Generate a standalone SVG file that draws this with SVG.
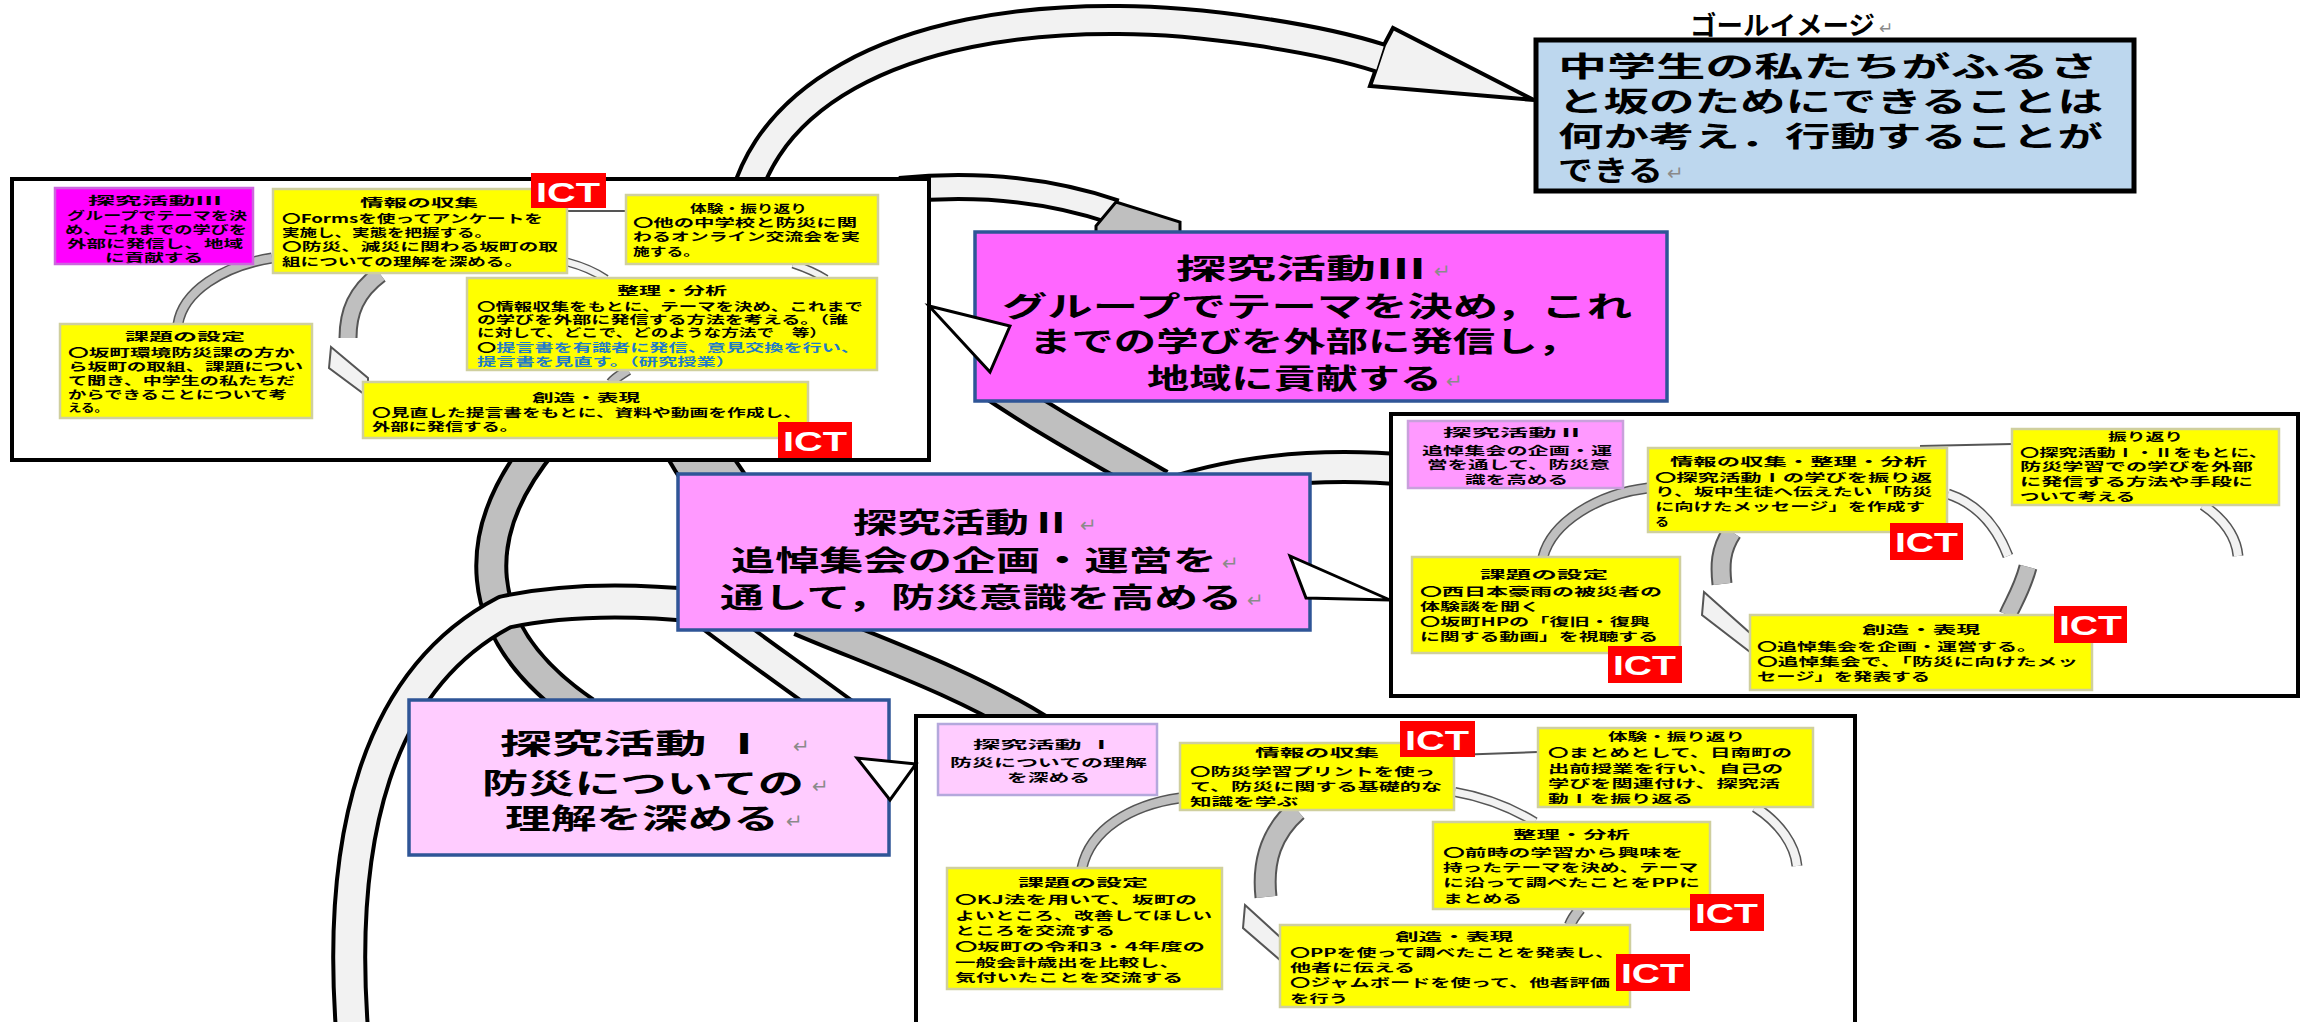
<svg xmlns="http://www.w3.org/2000/svg" width="2305" height="1022" viewBox="0 0 2305 1022">
<defs>
<style>
.j{font-family:"Noto Sans CJK JP","Noto Sans CJK SC",sans-serif;font-weight:700;fill:#000}
.s{font-size:11.5px}
.b{font-size:28px}
.g{font-size:26px}
.blue{fill:#1F7BC8}
.r{font-family:"DejaVu Sans",sans-serif;font-weight:400;fill:#8a8a8a}
.panel{fill:#fff;stroke:#000;stroke-width:4}
.yb{fill:#FFFF00;stroke:#CFCF9E;stroke-width:2.5}
.ict{fill:#FF0000}
.ictt{font-family:"Liberation Sans",Arial,sans-serif;font-weight:700;font-size:28px;fill:#fff}
.bo{fill:none;stroke:#000}
.io{fill:none;stroke:#555}
.bl{fill:none;stroke:#F2F2F2}
.bg{fill:none;stroke:#BFBFBF}
.hl{fill:#F2F2F2;stroke:#000;stroke-width:4;stroke-linejoin:miter}
.hg{fill:#BFBFBF;stroke:#000;stroke-width:3}
.wl{fill:#F2F2F2;stroke:#555;stroke-width:2}
.ln{fill:none;stroke:#555;stroke-width:2}
.co{stroke:#2F5597;stroke-width:3.5}
.tail{fill:#fff;stroke:#000;stroke-width:3;stroke-linejoin:miter}
</style>
<path id="b1" d="M738,250 C738,95 905,18 1119,20 C1200,20 1318,38 1380,58"/>
<path id="b2" d="M900,190 C980,182 1050,190 1115,212"/>
<path id="b3" d="M545,440 C470,530 465,630 585,712"/>
<path id="b4" d="M352,1030 C338,840 375,680 505,612 C570,598 640,600 700,606"/>
<path id="b5" d="M690,440 C700,460 712,475 725,495"/>
<path id="b7" d="M800,620 C870,650 960,680 1040,730"/>
<path id="b8" d="M1150,500 C1230,470 1320,462 1410,470"/>
<path id="b9" d="M985,380 C1060,430 1100,450 1160,485"/>
<path id="b10" d="M690,600 C740,640 800,680 880,740"/>
<path id="ta" d="M178,324 C183,292 222,266 272,258"/>
<path id="tb" d="M380,274 C356,292 348,312 348,338"/>
<path id="td" d="M567,262 C582,266 596,272 606,279"/>
<path id="tf" d="M793,264 C805,268 815,272 826,279"/>
<path id="tg" d="M628,370 C622,374 615,378 611,383"/>
<path id="ma" d="M1543,557 C1552,522 1598,494 1648,488"/>
<path id="mb" d="M1732,532 C1720,550 1720,566 1722,584"/>
<path id="md" d="M1948,494 C1975,503 1995,522 2008,556"/>
<path id="me" d="M2028,567 C2022,590 2012,605 2008,615"/>
<path id="mf" d="M2203,505 C2222,518 2236,535 2238,556"/>
<path id="ba" d="M1082,868 C1090,830 1130,805 1180,798"/>
<path id="bb" d="M1297,810 C1272,832 1262,860 1266,897"/>
<path id="bd" d="M1455,792 C1490,798 1515,810 1535,822"/>
<path id="be" d="M1755,807 C1780,823 1795,845 1797,866"/>
<path id="bf" d="M1580,909 C1576,914 1572,919 1570,925"/>
</defs>
<rect x="0" y="0" width="2305" height="1022" fill="#fff"/>

<g id="spiral-connectors">
<use href="#b3" class="bo" stroke-width="34"/><use href="#b3" class="bg" stroke-width="26"/>
<use href="#b5" class="bo" stroke-width="60"/><use href="#b5" class="bg" stroke-width="52"/>
<use href="#b9" class="bo" stroke-width="34"/><use href="#b9" class="bg" stroke-width="26"/>
<use href="#b7" class="bo" stroke-width="34"/><use href="#b7" class="bg" stroke-width="26"/>
<use href="#b10" class="bo" stroke-width="34"/><use href="#b10" class="bl" stroke-width="26"/>
<use href="#b8" class="bo" stroke-width="34"/><use href="#b8" class="bl" stroke-width="26"/>
<use href="#b4" class="bo" stroke-width="36"/><use href="#b4" class="bl" stroke-width="28"/>
<use href="#b2" class="bo" stroke-width="28"/><use href="#b2" class="bl" stroke-width="20"/>
<polygon class="hg" points="1096,226 1116,202 1180,222 1180,240 1096,240"/>
<use href="#b1" class="bo" stroke-width="32"/>
<polygon class="hl" points="1384,45 1393,28 1534,100 1370,86 1376,69"/>
<use href="#b1" class="bl" stroke-width="24"/>
</g>

<g id="panel-3"><rect class="panel" x="12" y="179" width="917" height="281"/></g>
<g id="panel-2"><rect class="panel" x="1391" y="414" width="907" height="282"/></g>
<g id="panel-1"><rect class="panel" x="916" y="716" width="939" height="320"/></g>

<g id="inner-connectors">
<use href="#ta" class="io" stroke-width="11"/><use href="#ta" class="bg" stroke-width="8"/>
<use href="#tb" class="io" stroke-width="19"/><use href="#tb" class="bg" stroke-width="15"/>
<polygon class="wl" points="331,347 368,378 368,397 329,368"/>
<use href="#td" class="io" stroke-width="9"/><use href="#td" class="bl" stroke-width="6"/>
<line class="ln" x1="567" y1="211" x2="626" y2="211"/>
<use href="#tf" class="io" stroke-width="9"/><use href="#tf" class="bl" stroke-width="6"/>
<use href="#tg" class="io" stroke-width="11"/><use href="#tg" class="bg" stroke-width="8"/>
<use href="#ma" class="io" stroke-width="11"/><use href="#ma" class="bg" stroke-width="8"/>
<use href="#mb" class="io" stroke-width="21"/><use href="#mb" class="bg" stroke-width="17"/>
<polygon class="wl" points="1704,592 1750,633 1750,652 1702,615"/>
<use href="#md" class="io" stroke-width="11"/><use href="#md" class="bl" stroke-width="8"/>
<use href="#me" class="io" stroke-width="19"/><use href="#me" class="bg" stroke-width="15"/>
<use href="#mf" class="io" stroke-width="11"/><use href="#mf" class="bl" stroke-width="8"/>
<line class="ln" x1="1920" y1="446" x2="2012" y2="444"/>
<use href="#ba" class="io" stroke-width="11"/><use href="#ba" class="bg" stroke-width="8"/>
<use href="#bb" class="io" stroke-width="23"/><use href="#bb" class="bg" stroke-width="19"/>
<polygon class="wl" points="1245,905 1280,937 1280,960 1243,928"/>
<use href="#bd" class="io" stroke-width="10"/><use href="#bd" class="bl" stroke-width="7"/>
<use href="#be" class="io" stroke-width="11"/><use href="#be" class="bl" stroke-width="8"/>
<use href="#bf" class="io" stroke-width="12"/><use href="#bf" class="bg" stroke-width="9"/>
<line class="ln" x1="1454" y1="755" x2="1538" y2="752"/>
</g>

<g id="tl-title">
<rect x="55" y="188" width="198" height="76" fill="#FF00FF" stroke="#CC66DD" stroke-width="2.5"/>
<text class="j s" x="88" y="205" textLength="134" lengthAdjust="spacingAndGlyphs">探究活動Ⅲ</text>
<text class="j s" x="67" y="220" textLength="180" lengthAdjust="spacingAndGlyphs">グループでテーマを決</text>
<text class="j s" x="65" y="234" textLength="182" lengthAdjust="spacingAndGlyphs">め、これまでの学びを</text>
<text class="j s" x="67" y="248" textLength="176" lengthAdjust="spacingAndGlyphs">外部に発信し、地域</text>
<text class="j s" x="105" y="262" textLength="98" lengthAdjust="spacingAndGlyphs">に貢献する</text>
</g>
<g id="tl-joho">
<rect class="yb" x="273" y="189" width="294" height="84"/>
<text class="j s" x="360" y="207" textLength="118" lengthAdjust="spacingAndGlyphs">情報の収集</text>
<text class="j s" x="282" y="223" textLength="261" lengthAdjust="spacingAndGlyphs">〇Formsを使ってアンケートを</text>
<text class="j s" x="282" y="237" textLength="210" lengthAdjust="spacingAndGlyphs">実施し、実態を把握する。</text>
<text class="j s" x="282" y="251" textLength="276" lengthAdjust="spacingAndGlyphs">〇防災、減災に関わる坂町の取</text>
<text class="j s" x="282" y="266" textLength="241" lengthAdjust="spacingAndGlyphs">組についての理解を深める。</text>
</g>
<g id="tl-taiken">
<rect class="yb" x="626" y="195" width="252" height="69"/>
<text class="j s" x="690" y="213" textLength="117" lengthAdjust="spacingAndGlyphs">体験・振り返り</text>
<text class="j s" x="633" y="227" textLength="224" lengthAdjust="spacingAndGlyphs">〇他の中学校と防災に関</text>
<text class="j s" x="633" y="241" textLength="227" lengthAdjust="spacingAndGlyphs">わるオンライン交流会を実</text>
<text class="j s" x="633" y="256" textLength="67" lengthAdjust="spacingAndGlyphs">施する。</text>
</g>
<g id="tl-seiri">
<rect class="yb" x="467" y="278" width="410" height="92"/>
<text class="j s" x="617" y="295" textLength="110" lengthAdjust="spacingAndGlyphs">整理・分析</text>
<text class="j s" x="477" y="311" textLength="386" lengthAdjust="spacingAndGlyphs">〇情報収集をもとに、テーマを決め、これまで</text>
<text class="j s" x="477" y="324" textLength="371" lengthAdjust="spacingAndGlyphs">の学びを外部に発信する方法を考える。（誰</text>
<text class="j s" x="477" y="337" textLength="350" lengthAdjust="spacingAndGlyphs">に対して、どこで、どのような方法で　等）</text>
<text class="j s" x="477" y="352" textLength="383" lengthAdjust="spacingAndGlyphs">〇<tspan class="blue">提言書を有識者に発信、意見交換を行い、</tspan></text>
<text class="j s blue" x="477" y="366" textLength="258" lengthAdjust="spacingAndGlyphs">提言書を見直す。（研究授業）</text>
</g>
<g id="tl-sozo">
<rect class="yb" x="363" y="382" width="445" height="56"/>
<text class="j s" x="532" y="402" textLength="108" lengthAdjust="spacingAndGlyphs">創造・表現</text>
<text class="j s" x="372" y="417" textLength="430" lengthAdjust="spacingAndGlyphs">〇見直した提言書をもとに、資料や動画を作成し、</text>
<text class="j s" x="372" y="431" textLength="146" lengthAdjust="spacingAndGlyphs">外部に発信する。</text>
</g>
<g id="tl-kadai">
<rect class="yb" x="60" y="324" width="252" height="94"/>
<text class="j s" x="125" y="341" textLength="120" lengthAdjust="spacingAndGlyphs">課題の設定</text>
<text class="j s" x="68" y="357" textLength="227" lengthAdjust="spacingAndGlyphs">〇坂町環境防災課の方か</text>
<text class="j s" x="68" y="371" textLength="235" lengthAdjust="spacingAndGlyphs">ら坂町の取組、課題につい</text>
<text class="j s" x="68" y="385" textLength="227" lengthAdjust="spacingAndGlyphs">て聞き、中学生の私たちだ</text>
<text class="j s" x="68" y="399" textLength="219" lengthAdjust="spacingAndGlyphs">からできることについて考</text>
<text class="j s" x="68" y="412" textLength="40" lengthAdjust="spacingAndGlyphs">える。</text>
</g>

<g id="mid-title">
<rect x="1408" y="421" width="215" height="67" fill="#FF99FF" stroke="#C9A0DC" stroke-width="2.5"/>
<text class="j s" x="1443" y="437" textLength="142" lengthAdjust="spacingAndGlyphs">探究活動Ⅱ</text>
<text class="j s" x="1422" y="455" textLength="190" lengthAdjust="spacingAndGlyphs">追悼集会の企画・運</text>
<text class="j s" x="1427" y="469" textLength="183" lengthAdjust="spacingAndGlyphs">営を通して、防災意</text>
<text class="j s" x="1465" y="484" textLength="103" lengthAdjust="spacingAndGlyphs">識を高める</text>
</g>
<g id="mid-joho">
<rect class="yb" x="1648" y="448" width="299" height="84"/>
<text class="j s" x="1670" y="466" textLength="257" lengthAdjust="spacingAndGlyphs">情報の収集・整理・分析</text>
<text class="j s" x="1655" y="482" textLength="277" lengthAdjust="spacingAndGlyphs">〇探究活動Ⅰの学びを振り返</text>
<text class="j s" x="1655" y="496" textLength="277" lengthAdjust="spacingAndGlyphs">り、坂中生徒へ伝えたい「防災</text>
<text class="j s" x="1655" y="511" textLength="270" lengthAdjust="spacingAndGlyphs">に向けたメッセージ」を作成す</text>
<text class="j s" x="1655" y="526" textLength="14" lengthAdjust="spacingAndGlyphs">る</text>
</g>
<g id="mid-furikaeri">
<rect class="yb" x="2012" y="429" width="267" height="76"/>
<text class="j s" x="2108" y="441" textLength="75" lengthAdjust="spacingAndGlyphs">振り返り</text>
<text class="j s" x="2020" y="457" textLength="248" lengthAdjust="spacingAndGlyphs">〇探究活動Ⅰ・Ⅱをもとに、</text>
<text class="j s" x="2020" y="471" textLength="233" lengthAdjust="spacingAndGlyphs">防災学習での学びを外部</text>
<text class="j s" x="2020" y="486" textLength="233" lengthAdjust="spacingAndGlyphs">に発信する方法や手段に</text>
<text class="j s" x="2020" y="501" textLength="115" lengthAdjust="spacingAndGlyphs">ついて考える</text>
</g>
<g id="mid-kadai">
<rect class="yb" x="1412" y="557" width="268" height="96"/>
<text class="j s" x="1480" y="579" textLength="128" lengthAdjust="spacingAndGlyphs">課題の設定</text>
<text class="j s" x="1420" y="596" textLength="242" lengthAdjust="spacingAndGlyphs">〇西日本豪雨の被災者の</text>
<text class="j s" x="1420" y="611" textLength="120" lengthAdjust="spacingAndGlyphs">体験談を聞く</text>
<text class="j s" x="1420" y="626" textLength="230" lengthAdjust="spacingAndGlyphs">〇坂町HPの「復旧・復興</text>
<text class="j s" x="1420" y="641" textLength="238" lengthAdjust="spacingAndGlyphs">に関する動画」を視聴する</text>
</g>
<g id="mid-sozo">
<rect class="yb" x="1750" y="615" width="342" height="75"/>
<text class="j s" x="1862" y="634" textLength="118" lengthAdjust="spacingAndGlyphs">創造・表現</text>
<text class="j s" x="1757" y="651" textLength="280" lengthAdjust="spacingAndGlyphs">〇追悼集会を企画・運営する。</text>
<text class="j s" x="1757" y="666" textLength="321" lengthAdjust="spacingAndGlyphs">〇追悼集会で、「防災に向けたメッ</text>
<text class="j s" x="1757" y="681" textLength="173" lengthAdjust="spacingAndGlyphs">セージ」を発表する</text>
</g>

<g id="bot-title">
<rect x="938" y="724" width="219" height="71" fill="#FFCCFF" stroke="#B4A8DC" stroke-width="2.5"/>
<text class="j s" x="973" y="749" textLength="142" lengthAdjust="spacingAndGlyphs">探究活動 Ⅰ</text>
<text class="j s" x="950" y="767" textLength="197" lengthAdjust="spacingAndGlyphs">防災についての理解</text>
<text class="j s" x="1007" y="782" textLength="83" lengthAdjust="spacingAndGlyphs">を深める</text>
</g>
<g id="bot-joho">
<rect class="yb" x="1180" y="743" width="274" height="67"/>
<text class="j s" x="1255" y="757" textLength="124" lengthAdjust="spacingAndGlyphs">情報の収集</text>
<text class="j s" x="1190" y="776" textLength="245" lengthAdjust="spacingAndGlyphs">〇防災学習プリントを使っ</text>
<text class="j s" x="1190" y="791" textLength="252" lengthAdjust="spacingAndGlyphs">て、防災に関する基礎的な</text>
<text class="j s" x="1190" y="806" textLength="108" lengthAdjust="spacingAndGlyphs">知識を学ぶ</text>
</g>
<g id="bot-taiken">
<rect class="yb" x="1538" y="728" width="275" height="79"/>
<text class="j s" x="1608" y="741" textLength="137" lengthAdjust="spacingAndGlyphs">体験・振り返り</text>
<text class="j s" x="1548" y="757" textLength="244" lengthAdjust="spacingAndGlyphs">〇まとめとして、日南町の</text>
<text class="j s" x="1548" y="773" textLength="235" lengthAdjust="spacingAndGlyphs">出前授業を行い、自己の</text>
<text class="j s" x="1548" y="788" textLength="232" lengthAdjust="spacingAndGlyphs">学びを関連付け、探究活</text>
<text class="j s" x="1548" y="803" textLength="145" lengthAdjust="spacingAndGlyphs">動Ⅰを振り返る</text>
</g>
<g id="bot-seiri">
<rect class="yb" x="1433" y="822" width="277" height="87"/>
<text class="j s" x="1513" y="839" textLength="117" lengthAdjust="spacingAndGlyphs">整理・分析</text>
<text class="j s" x="1443" y="857" textLength="240" lengthAdjust="spacingAndGlyphs">〇前時の学習から興味を</text>
<text class="j s" x="1443" y="872" textLength="255" lengthAdjust="spacingAndGlyphs">持ったテーマを決め、テーマ</text>
<text class="j s" x="1443" y="887" textLength="257" lengthAdjust="spacingAndGlyphs">に沿って調べたことをPPに</text>
<text class="j s" x="1443" y="903" textLength="79" lengthAdjust="spacingAndGlyphs">まとめる</text>
</g>
<g id="bot-kadai">
<rect class="yb" x="947" y="868" width="275" height="121"/>
<text class="j s" x="1018" y="887" textLength="130" lengthAdjust="spacingAndGlyphs">課題の設定</text>
<text class="j s" x="955" y="904" textLength="242" lengthAdjust="spacingAndGlyphs">〇KJ法を用いて、坂町の</text>
<text class="j s" x="955" y="920" textLength="257" lengthAdjust="spacingAndGlyphs">よいところ、改善してほしい</text>
<text class="j s" x="955" y="935" textLength="160" lengthAdjust="spacingAndGlyphs">ところを交流する</text>
<text class="j s" x="955" y="951" textLength="250" lengthAdjust="spacingAndGlyphs">〇坂町の令和3・4年度の</text>
<text class="j s" x="955" y="967" textLength="225" lengthAdjust="spacingAndGlyphs">一般会計歳出を比較し、</text>
<text class="j s" x="955" y="982" textLength="228" lengthAdjust="spacingAndGlyphs">気付いたことを交流する</text>
</g>
<g id="bot-sozo">
<rect class="yb" x="1280" y="925" width="350" height="82"/>
<text class="j s" x="1395" y="941" textLength="118" lengthAdjust="spacingAndGlyphs">創造・表現</text>
<text class="j s" x="1290" y="957" textLength="325" lengthAdjust="spacingAndGlyphs">〇PPを使って調べたことを発表し、</text>
<text class="j s" x="1290" y="972" textLength="125" lengthAdjust="spacingAndGlyphs">他者に伝える</text>
<text class="j s" x="1290" y="987" textLength="320" lengthAdjust="spacingAndGlyphs">〇ジャムボードを使って、他者評価</text>
<text class="j s" x="1290" y="1003" textLength="58" lengthAdjust="spacingAndGlyphs">を行う</text>
</g>

<g id="ict-1"><rect class="ict" x="531" y="173" width="75" height="35"/><text class="ictt" x="536" y="202" textLength="64" lengthAdjust="spacingAndGlyphs">ICT</text></g>
<g id="ict-2"><rect class="ict" x="778" y="422" width="74" height="36"/><text class="ictt" x="783" y="451" textLength="64" lengthAdjust="spacingAndGlyphs">ICT</text></g>
<g id="ict-3"><rect class="ict" x="1890" y="523" width="73" height="37"/><text class="ictt" x="1895" y="552" textLength="63" lengthAdjust="spacingAndGlyphs">ICT</text></g>
<g id="ict-4"><rect class="ict" x="1608" y="646" width="74" height="37"/><text class="ictt" x="1613" y="675" textLength="63" lengthAdjust="spacingAndGlyphs">ICT</text></g>
<g id="ict-5"><rect class="ict" x="2054" y="606" width="73" height="37"/><text class="ictt" x="2059" y="635" textLength="63" lengthAdjust="spacingAndGlyphs">ICT</text></g>
<g id="ict-6"><rect class="ict" x="1400" y="721" width="75" height="36"/><text class="ictt" x="1405" y="750" textLength="64" lengthAdjust="spacingAndGlyphs">ICT</text></g>
<g id="ict-7"><rect class="ict" x="1690" y="894" width="74" height="37"/><text class="ictt" x="1695" y="923" textLength="63" lengthAdjust="spacingAndGlyphs">ICT</text></g>
<g id="ict-8"><rect class="ict" x="1616" y="954" width="74" height="37"/><text class="ictt" x="1621" y="983" textLength="63" lengthAdjust="spacingAndGlyphs">ICT</text></g>

<g id="callout-3">
<rect class="co" x="975" y="232" width="692" height="169" fill="#FF66FF"/>
<polygon class="tail" points="1010,326 990,372 929,306"/>
<text class="j b" x="1176" y="279" textLength="250" lengthAdjust="spacingAndGlyphs">探究活動Ⅲ</text><text class="r" x="1434" y="278" font-size="20">↵</text>
<text class="j b" x="1002" y="317" textLength="630" lengthAdjust="spacingAndGlyphs">グループでテーマを決め，これ</text>
<text class="j b" x="1029" y="352" textLength="551" lengthAdjust="spacingAndGlyphs">までの学びを外部に発信し，</text>
<text class="j b" x="1147" y="389" textLength="295" lengthAdjust="spacingAndGlyphs">地域に貢献する</text><text class="r" x="1446" y="388" font-size="20">↵</text>
</g>
<g id="callout-2">
<rect class="co" x="678" y="474" width="632" height="156" fill="#FF99FF"/>
<polygon class="tail" points="1290,556 1306,598 1390,600"/>
<text class="j b" x="853" y="533" textLength="220" lengthAdjust="spacingAndGlyphs">探究活動Ⅱ</text><text class="r" x="1080" y="532" font-size="20">↵</text>
<text class="j b" x="731" y="571" textLength="486" lengthAdjust="spacingAndGlyphs">追悼集会の企画・運営を</text><text class="r" x="1222" y="570" font-size="20">↵</text>
<text class="j b" x="720" y="608" textLength="522" lengthAdjust="spacingAndGlyphs">通して，防災意識を高める</text><text class="r" x="1247" y="607" font-size="20">↵</text>
</g>
<g id="callout-1">
<rect class="co" x="409" y="700" width="480" height="155" fill="#FFCCFF"/>
<polygon class="tail" points="857,758 890,800 916,764"/>
<text class="j b" x="500" y="754" textLength="270" lengthAdjust="spacingAndGlyphs">探究活動 Ⅰ</text><text class="r" x="793" y="753" font-size="20">↵</text>
<text class="j b" x="482" y="794" textLength="322" lengthAdjust="spacingAndGlyphs">防災についての</text><text class="r" x="812" y="793" font-size="20">↵</text>
<text class="j b" x="505" y="829" textLength="274" lengthAdjust="spacingAndGlyphs">理解を深める</text><text class="r" x="786" y="828" font-size="20">↵</text>
</g>

<g id="goal">
<text class="j g" x="1690" y="35" textLength="185" lengthAdjust="spacingAndGlyphs">ゴールイメージ</text><text class="r" x="1879" y="34" font-size="17">↵</text>
<rect x="1536" y="40" width="598" height="151" fill="#BDD7EE" stroke="#000" stroke-width="5"/>
<text class="j b" x="1558" y="77" textLength="540" lengthAdjust="spacingAndGlyphs">中学生の私たちがふるさ</text>
<text class="j b" x="1558" y="112" textLength="545" lengthAdjust="spacingAndGlyphs">と坂のためにできることは</text>
<text class="j b" x="1558" y="147" textLength="545" lengthAdjust="spacingAndGlyphs">何か考え．行動することが</text>
<text class="j b" x="1558" y="181" textLength="105" lengthAdjust="spacingAndGlyphs">できる</text><text class="r" x="1667" y="180" font-size="20">↵</text>
</g>
</svg>
